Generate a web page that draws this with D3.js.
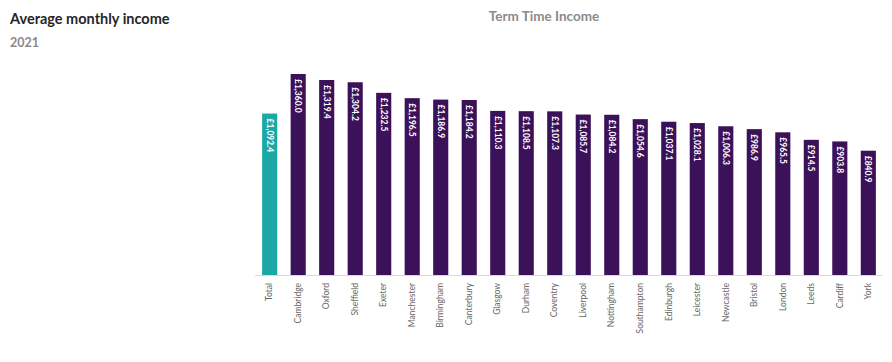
<!DOCTYPE html>
<html>
  <head>
    <script src="https://d3js.org/d3.v7.min.js"></script>
    <style>
      body { margin: 0; background: #fff; }
      text { font-family: Lato, "Open Sans", sans-serif; }
    </style>
  </head>
  <body>
<script type="text/javascript">
var cities = ['Total', 'Cambridge', 'Oxford', 'Sheffield', 'Exeter', 'Manchester', 'Birmingham',
  'Canterbury', 'Glasgow', 'Durham', 'Coventry', 'Liverpool', 'Nottingham', 'Southampton',
  'Edinburgh', 'Leicester', 'Newcastle', 'Bristol', 'London', 'Leeds', 'Cardiff', 'York'];
var income = [1092.4, 1360.0, 1319.4, 1304.2, 1232.5, 1196.5, 1186.9, 1184.2, 1110.3, 1108.5,
  1107.3, 1085.7, 1084.2, 1054.6, 1037.1, 1028.1, 1006.3, 986.9, 965.5, 914.5, 903.8, 840.9];

var width = 892, height = 362;
var svg = d3.select('body').append('svg')
      .attr('width', width)
      .attr('height', height);

var data = cities.map(function(c, i) { return {city: c, value: income[i]}; });

var x = d3.scaleBand()
      .domain(cities)
      .range([255, 883])
      .paddingInner(0.47)
      .paddingOuter(0.25);

var y = d3.scaleLinear()
      .domain([0, 1360])
      .range([275, 74]);

var fmt = d3.format(',.1f');

// titles
svg.append('text')
    .attr('x', 10).attr('y', 24)
    .attr('font-size', 14.5).attr('font-weight', 'bold').attr('fill', '#262626')
    .text('Average monthly income');
svg.append('text')
    .attr('x', 10).attr('y', 47)
    .attr('font-size', 12.5).attr('font-weight', 'bold').attr('fill', '#8a8a8a')
    .text('2021');
svg.append('text')
    .attr('x', 544).attr('y', 21)
    .attr('text-anchor', 'middle')
    .attr('font-size', 13.5).attr('font-weight', 'bold').attr('fill', '#8a8a8a')
    .text('Term Time Income');

// bars
svg.append('g')
    .selectAll('rect')
    .data(data)
    .enter()
    .append('rect')
    .attr('x', function(d) { return x(d.city); })
    .attr('y', function(d) { return y(d.value); })
    .attr('width', x.bandwidth())
    .attr('height', function(d) { return y(0) - y(d.value); })
    .attr('fill', function(d) { return d.city === 'Total' ? '#1ba8a5' : '#3b1259'; });

// value labels inside bars
svg.append('g')
    .selectAll('text')
    .data(data)
    .enter()
    .append('text')
    .attr('transform', function(d) {
      return 'translate(' + (x(d.city) + x.bandwidth() / 2 - 3) + ',' + (y(d.value) + 5) + ') rotate(90)';
    })
    .attr('font-size', 8.5).attr('font-weight', 'bold').attr('fill', '#fff')
    .text(function(d) { return '£' + fmt(d.value); });

// baseline axis
var axis = svg.append('g')
    .attr('transform', 'translate(0,' + y(0) + ')')
    .call(d3.axisBottom(x).tickSize(0).tickPadding(0));
axis.select('.domain').attr('stroke', '#d9d9d9').attr('d', 'M255,0.5H882');
axis.selectAll('.tick text')
    .attr('font-family', 'Lato, "Open Sans", sans-serif')
    .attr('font-size', 8.5)
    .attr('fill', '#666')
    .attr('text-anchor', 'end')
    .attr('dy', '0.32em')
    .attr('transform', 'translate(0,8) rotate(-90)');
</script>
  </body>
</html>
